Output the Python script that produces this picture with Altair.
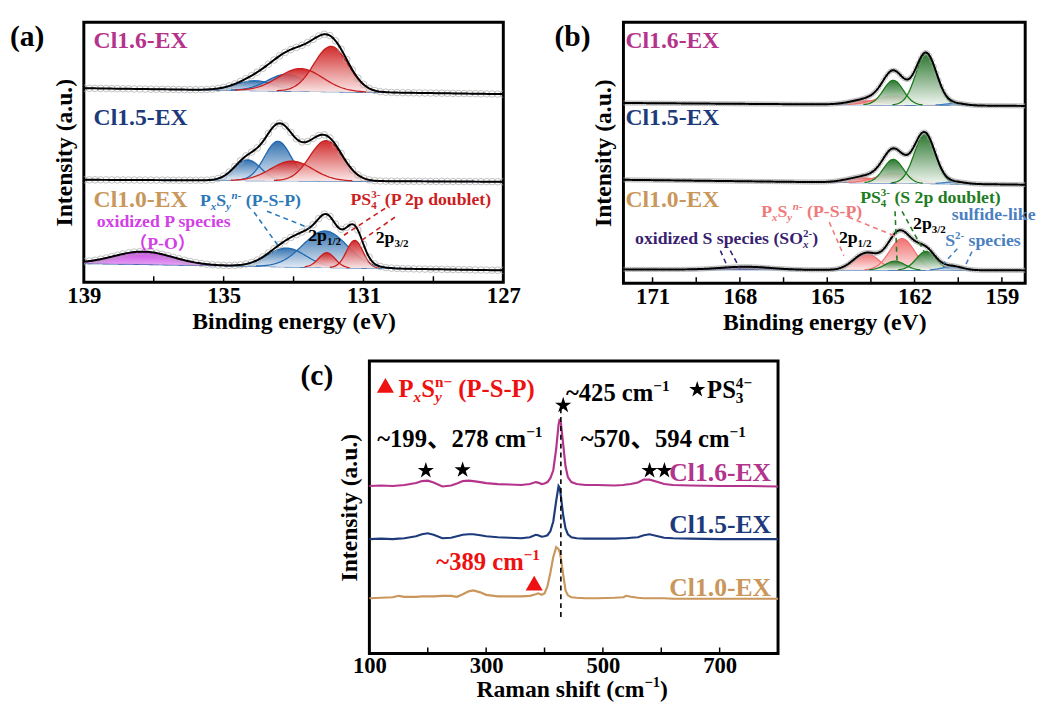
import numpy as np
import pandas as pd
import altair as alt

FONT = "Liberation Serif, Noto Sans CJK SC, serif"

# ---------------- colours ----------------
C16, C15, C10 = "#b4338b", "#1d3a7a", "#c9975c"

# ---------------- panel (a): P 2p XPS ----------------
A_SAMPLES = ["Cl1.6-EX", "Cl1.5-EX", "Cl1.0-EX"]
A_BG_HI = [197, 104, 19]      # background level at 139 eV
A_BG_LO = [191, 102, 12]      # background level at 127 eV
A_CENTER = [[134.1, 133.2, 132.8, 131.93],
            [134.32, 133.45, 133.05, 132.07],
            [137.3, 133.2, 132.1, 132.05, 131.25]]
A_HEIGHT = [[10, 17, 23, 46],
            [21, 40, 20, 41],
            [13, 19, 37, 15, 28]]
A_FWHM = [[1.3, 1.3, 1.5, 1.15],
          [0.9, 0.9, 1.4, 1.1],
          [2.0, 1.3, 1.5, 0.55, 0.55]]
A_FAMILY = [["blue", "blue", "red", "red"],
            ["blue", "blue", "red", "red"],
            ["PO", "blue", "blue", "red", "red"]]
A_TICKS = [129, 131, 133, 135, 137]
A_LABELS = [127, 131, 135, 139]

# ---------------- panel (b): S 2p XPS ----------------
B_SAMPLES = ["Cl1.6-EX", "Cl1.5-EX", "Cl1.0-EX"]
B_BG_HI = [183, 105, 14]      # at 172 eV
B_BG_LO = [180, 100, 13]      # at 158.2 eV
B_CENTER = [[163.7, 162.75, 162.73, 161.6, 160.6],
            [163.8, 162.7, 162.73, 161.65, 160.6],
            [167.8, 163.67, 162.43, 162.67, 161.6, 160.7]]
B_HEIGHT = [[4, 9, 25, 52, 2],
            [5, 10, 24, 50, 2],
            [3, 17, 32, 9, 19, 4]]
B_FWHM = [[1.3, 1.4, 0.8, 0.85, 0.8],
          [1.3, 1.4, 0.8, 0.85, 0.8],
          [2.0, 1.0, 1.0, 0.8, 0.8, 0.8]]
B_FAMILY = [["pink", "pink", "green", "green", "sblue"],
            ["pink", "pink", "green", "green", "sblue"],
            ["SO", "pink", "pink", "green", "green", "sblue"]]
B_TICKS = [159, 160.5, 162, 163.5, 165, 166.5, 168, 169.5, 171]
B_LABELS = [159, 162, 165, 168, 171]

# ---------------- panel (c): Raman ----------------
C_X = [100, 120, 140, 150, 160, 180, 190, 200, 210, 225, 240, 250, 260, 270, 278, 290, 300,
       320, 340, 360, 375, 385, 389, 395, 400, 405, 410, 415, 420, 424, 426, 428, 432, 436,
       440, 446, 455, 470, 490, 520, 535, 540, 548, 560, 570, 580, 594, 605, 620, 650, 700,
       750, 800]
C_Y16 = [170, 170.5, 170, 170.5, 171, 173, 175, 175.5, 173.5, 169.5, 170.5, 172.5, 175, 175.5,
         175, 174, 173, 172, 171.5, 171, 172, 174, 173.5, 172, 172.5, 174, 178, 186, 208, 232,
         238, 234, 212, 190, 179, 174, 172, 171, 171, 170.5, 171, 171.5, 172, 173.5, 176.5,
         176.5, 174, 172, 171, 170.5, 170, 170, 169.5]
C_Y15 = [116, 116.5, 116, 116.5, 117, 119, 121, 122, 120.5, 117, 117.5, 119, 120.5, 121, 121,
         120, 119, 118, 117.5, 117, 118, 120.5, 120, 118.5, 119, 120, 124, 134, 155, 170, 168,
         160, 140, 127, 121, 118, 117, 116.5, 116.5, 116.5, 117, 117, 117.5, 118, 120, 121,
         119, 117.5, 117, 116.5, 116, 116, 116]
C_Y10 = [56, 56.5, 57, 58.5, 57.5, 57.5, 58, 58, 58, 58.5, 58.5, 57.5, 60, 63, 64, 62, 59.5,
         58, 58, 58, 58.5, 60, 61, 59.5, 61, 68, 82, 98, 108, 106, 103, 97, 80, 64, 59, 57,
         56.5, 56, 56, 56.5, 57, 58.5, 57.5, 56.5, 56, 56, 56, 56, 55.5, 55.5, 55.5, 55.5, 55.5]
C_SERIES = ["Cl1.6-EX", "Cl1.5-EX", "Cl1.0-EX"]
C_TICKS = [200, 300, 400, 500, 600, 700]
C_LABELS = [100, 300, 500, 700]

# ---------------- sizes ----------------
A_W, A_H = 426, 264
B_W, B_H = 408, 265
C_W, C_H = 415, 297
A_DOM, B_DOM, C_DOM = [127, 139], [158.2, 172], [100, 800]
KX_A = -A_W / (A_DOM[1] - A_DOM[0])
KX_B = -B_W / (B_DOM[1] - B_DOM[0])
KX_C = C_W / (C_DOM[1] - C_DOM[0])

# ---------------- rich text helper (sub/superscripts) ----------------
TW = {" ": 250, "!": 333, "(": 333, ")": 333, "-": 333, ".": 250, "/": 278, "~": 520,
      "、": 1000, "（": 1000, "）": 1000, "−": 570,
      "A": 722, "B": 667, "C": 722, "D": 722, "E": 667, "F": 611, "G": 778, "H": 778, "I": 389,
      "J": 500, "K": 778, "L": 667, "M": 944, "N": 722, "O": 778, "P": 611, "Q": 778, "R": 722,
      "S": 556, "T": 667, "U": 722, "V": 722, "W": 1000, "X": 722, "Y": 722, "Z": 667,
      "a": 500, "b": 556, "c": 444, "d": 556, "e": 444, "f": 333, "g": 500, "h": 556, "i": 278,
      "j": 333, "k": 556, "l": 278, "m": 833, "n": 556, "o": 500, "p": 556, "q": 556, "r": 444,
      "s": 389, "t": 333, "u": 556, "v": 500, "w": 722, "x": 500, "y": 500, "z": 444}


def cw(ch):
    return 500 if ch.isdigit() else TW.get(ch, 500)


KIND = {"n": ("n", False), "i": ("n", True), "sub": ("sub", False), "isub": ("sub", True),
        "sup": ("sup", False), "isup": ("sup", True), "st": ("st", False), "ist": ("st", True)}


def rich_rows(segs, x0, y0, size, color, kx, align="left"):
    items, off, last = [], 0.0, (0.0, 0.0)
    for text, kind in segs:
        k, it = KIND[kind]
        fs = size * 0.62 if k != "n" else size
        body = text.strip(" ")
        lead = len(text) - len(text.lstrip(" "))
        lw = sum(cw(c) for c in text[:lead]) / 1000 * fs
        w = sum(cw(c) for c in body) / 1000 * fs
        tr = sum(cw(c) for c in text[lead + len(body):]) / 1000 * fs
        if k == "st":
            start = last[0]
            off = max(last[0] + last[1], start + w) + tr
        else:
            start = off + lw
            last = (start, w)
            off = start + w + tr
        dy = {"n": 0.0, "sub": 0.22 * size, "sup": -0.40 * size, "st": -0.40 * size}[k]
        items.append((body, start, dy, fs, it))
    shift = {"left": 0.0, "center": -off / 2, "right": -off}[align]
    return [dict(x=x0 + (s + shift) / kx, y=y0 - dy, text=b, size=fs, color=color, italic=it)
            for b, s, dy, fs, it in items]


def text_frames(specs, kx):
    rows = []
    for segs, x0, y0, size, color, align in specs:
        rows += rich_rows(segs, x0, y0, size, color, kx, align)
    df = pd.DataFrame(rows)
    return df[~df.italic].copy(), df[df.italic].copy()


PXSY = [("P", "n"), ("x", "isub"), ("S", "n"), ("y", "isub"), ("n-", "isup"), (" (P-S-P)", "n")]

A_TEXT = [
    ([("Cl1.6-EX", "n")], 138.72, 238, 24, C16, "left"),
    ([("Cl1.5-EX", "n")], 138.72, 160, 24, C15, "left"),
    ([("Cl1.0-EX", "n")], 138.72, 76, 24, C10, "left"),
    (PXSY, 135.68, 77, 18, "#2a78b8", "left"),
    ([("PS", "n"), ("4", "sub"), ("3-", "st"), (" (P 2p doublet)", "n")], 131.37, 78, 18, "#cc1f1f", "left"),
    ([("oxidized P species", "n")], 138.63, 56, 18, "#d23fe6", "left"),
    ([("（P-O）", "n")], 136.75, 34, 18, "#d23fe6", "center"),
    ([("2p", "n"), ("1/2", "sub")], 132.58, 42, 18, "black", "left"),
    ([("2p", "n"), ("3/2", "sub")], 130.65, 40, 18, "black", "left"),
]
A_DASH = [  # x1, y1, x2, y2, colour
    (134.13, 71, 133.42, 36, "#2a78b8"),
    (133.76, 72, 132.55, 55, "#2a78b8"),
    (130.38, 75, 131.59, 47, "#cc1f1f"),
    (130.10, 66, 131.11, 41, "#cc1f1f"),
]

B_TEXT = [
    ([("Cl1.6-EX", "n")], 171.93, 239, 24, C16, "left"),
    ([("Cl1.5-EX", "n")], 171.93, 161, 24, C15, "left"),
    ([("Cl1.0-EX", "n")], 171.93, 77, 24, C10, "left"),
    (PXSY, 167.27, 67, 18, "#f07a7a", "left"),
    ([("PS", "n"), ("4", "sub"), ("3-", "st"), (" (S 2p doublet)", "n")], 163.87, 81, 18, "#1e7d1e", "left"),
    ([("2p", "n"), ("1/2", "sub")], 164.6, 41, 18, "black", "left"),
    ([("2p", "n"), ("3/2", "sub")], 162.05, 55, 18, "black", "left"),
    ([("sulfide-like", "n")], 160.72, 64, 18, "#4a80c0", "left"),
    ([("S", "n"), ("2-", "sup"), (" species", "n")], 160.95, 38, 18, "#4a80c0", "left"),
    ([("oxidized S species (SO", "n"), ("x", "isub"), ("2-", "st"), (")", "n")], 171.6, 40, 18, "#3a1f70", "left"),
]
B_DASH = [
    (168.67, 33, 168.40, 15, "#3a1f70"),
    (168.33, 33, 168.00, 15, "#3a1f70"),
    (164.93, 62, 164.43, 28, "#f07a7a"),
    (164.27, 67, 162.60, 47, "#f07a7a"),
    (162.67, 73, 162.60, 20, "#1e7d1e"),
    (162.43, 73, 161.67, 32, "#1e7d1e"),
    (160.53, 35, 161.00, 20, "#4a80c0"),
    (160.03, 32, 160.27, 17, "#4a80c0"),
]

C_TEXT = [
    ([("P", "n"), ("x", "isub"), ("S", "n"), ("y", "isub"), ("n−", "st"), (" (P-S-P)", "n")], 150, 260.7, 25, "#ee1111", "left"),
    ([("~425 cm", "n"), ("−1", "sup")], 436.8, 256.3, 25, "black", "left"),
    ([("PS", "n"), ("3", "sub"), ("4−", "st")], 678.5, 259.7, 25, "black", "left"),
    ([("~199、278 cm", "n"), ("−1", "sup")], 113.5, 209.7, 25, "black", "left"),
    ([("~570、594 cm", "n"), ("−1", "sup")], 462, 209.7, 25, "black", "left"),
    ([("Cl1.6-EX", "n")], 788, 174.7, 26, C16, "right"),
    ([("Cl1.5-EX", "n")], 788, 122.3, 26, C15, "right"),
    ([("Cl1.0-EX", "n")], 788, 58, 26, C10, "right"),
    ([("~389 cm", "n"), ("−1", "sup")], 214.7, 84.7, 25, "#ee1111", "left"),
    ([("Raman shift (cm", "n"), ("−1", "sup"), (")", "n")], 447.4, -44, 24, "black", "center"),
]
C_STARS_X = [661.6, 432, 196.7, 259.7, 580, 605.4]
C_STARS_Y = [268, 252, 185.7, 186.3, 185.7, 185.7]
C_TRI_X = [127.5, 382.3]
C_TRI_Y = [272.3, 71.3]
C_DASH = [(428, 249, 428, 36, "black")]

STAR = ("M0,-1L0.2245,-0.309L0.9511,-0.309L0.3633,0.118L0.5878,0.809L0,0.382"
        "L-0.5878,0.809L-0.3633,0.118L-0.9511,-0.309L-0.2245,-0.309Z")

FILL = {
    "red": ("#cc1414", "#fbe6e6", "#c81e1e"),
    "blue": ("#1d63a8", "#e6edf6", "#2068b0"),
    "PO": ("#c832e6", "#e2a0f2", "#b030d0"),
    "green": ("#16691a", "#f0f6f0", "#1a7a1a"),
    "pink": ("#f06060", "#fde6e6", "#f07070"),
    "sblue": ("#3c78c0", "#dde8f5", "#3f7fc0"),
    "SO": ("#3a1f70", "#8070a0", "#3a1f70"),
}


def build_xps(xgrid, samples, bg_hi, bg_lo, centers, heights, fwhms, fams, x_hi, x_lo):
    comp, env, bgr = [], [], []
    for si, s in enumerate(samples):
        bg = bg_lo[si] + (bg_hi[si] - bg_lo[si]) * (xgrid - x_lo) / (x_hi - x_lo)
        total = np.zeros_like(xgrid)
        for ci, (c, h, w, f) in enumerate(zip(centers[si], heights[si], fwhms[si], fams[si])):
            g = h * np.exp(-4 * np.log(2) * (xgrid - c) ** 2 / w ** 2)
            total += g
            m = g > 0.25
            for xv, b, gv in zip(xgrid[m], bg[m], g[m]):
                comp.append(dict(x=xv, base=b, top=b + gv, comp=f"{s}-{ci}", fam=f))
        for xv, b, t in zip(xgrid, bg, bg + total):
            env.append(dict(x=xv, y=t, sample=s))
            bgr.append(dict(x=xv, y=b, sample=s))
    return pd.DataFrame(comp), pd.DataFrame(env), pd.DataFrame(bgr)


def grad(top, bottom):
    return alt.LinearGradient(gradient="linear",
                              stops=[alt.GradientStop(color=top, offset=0),
                                     alt.GradientStop(color=bottom, offset=1)],
                              x1=0, x2=0, y1=0, y2=1)


def make_panel(label, W, H, xdom, rev, xlabels, ticks, xtitle, ydom, layers_fn, label_dx, lpad=3):
    xaxis = alt.Axis(values=xlabels, title=xtitle, labelPadding=lpad, titlePadding=2,
                     labelFlush=False)
    yaxis = alt.Axis(labels=False, title="Intensity (a.u.)", titlePadding=8)

    def X(f):
        return alt.X(f"{f}:Q", scale=alt.Scale(domain=xdom, reverse=rev, nice=False, zero=False), axis=xaxis)

    def Y(f):
        return alt.Y(f"{f}:Q", scale=alt.Scale(domain=ydom, nice=False, zero=False), axis=yaxis)

    layers = layers_fn(X, Y)
    tick_layer = alt.Chart(pd.DataFrame({"x": ticks})).mark_rule(color="black", strokeWidth=1.5).encode(
        x=X("x"), y=alt.value(H), y2=alt.value(H - 6))
    lab = alt.Chart(pd.DataFrame({"t": [label]})).mark_text(
        font=FONT, fontWeight="bold", fontSize=30, align="left", baseline="alphabetic", color="black"
    ).encode(x=alt.value(label_dx), y=alt.value(24), text="t:N")
    return alt.layer(*layers, tick_layer, lab).properties(width=W, height=H)


def text_layers(specs, kx, X, Y):
    dn, di = text_frames(specs, kx)
    out = []
    for df, style in ((dn, "normal"), (di, "italic")):
        if len(df):
            out.append(alt.Chart(df).mark_text(font=FONT, fontWeight="bold", fontStyle=style,
                                               align="left", baseline="alphabetic").encode(
                x=X("x"), y=Y("y"), text="text:N",
                size=alt.Size("size:Q", scale=None), color=alt.Color("color:N", scale=None)))
    return out


def dash_layer(dashes, X, Y):
    df = pd.DataFrame(dashes, columns=["x", "y", "x2", "y2", "color"])
    return alt.Chart(df).mark_rule(strokeDash=[5, 4], strokeWidth=1.6).encode(
        x=X("x"), y=Y("y"), x2="x2:Q", y2="y2:Q", color=alt.Color("color:N", scale=None))


def xps_layers(comp, env, bgr, order, step, csize, texts, dashes, kx):
    def fn(X, Y):
        L = [alt.Chart(bgr).mark_line(color="#1f5aa0", strokeWidth=1.2, clip=True).encode(
            x=X("x"), y=Y("y"), detail="sample:N")]
        for fam in order:
            sub = comp[comp.fam == fam]
            if len(sub) == 0:
                continue
            top, bot, lc = FILL[fam]
            L.append(alt.Chart(sub).mark_area(
                color=grad(top, bot), fillOpacity=0.9, clip=True,
                line=alt.OverlayMarkDef(color=lc, strokeWidth=1.3)).encode(
                x=X("x"), y=Y("top"), y2="base:Q", detail="comp:N"))
        pts = env.groupby("sample", group_keys=False).apply(lambda d: d.iloc[::step])
        L.append(alt.Chart(pts).mark_point(shape="circle", filled=False, color="#a8a8a8",
                                           size=csize, strokeWidth=1, clip=True).encode(
            x=X("x"), y=Y("y")))
        L.append(alt.Chart(env).mark_line(color="black", strokeWidth=2, clip=True).encode(
            x=X("x"), y=Y("y"), detail="sample:N"))
        L.append(dash_layer(dashes, X, Y))
        L += text_layers(texts, kx, X, Y)
        return L
    return fn


# ---- panel (a)
AX = np.round(np.arange(127.0, 139.0001, 0.04), 3)
a_comp, a_env, a_bg = build_xps(AX, A_SAMPLES, A_BG_HI, A_BG_LO, A_CENTER, A_HEIGHT, A_FWHM, A_FAMILY, 139, 127)
panelA = make_panel("(a)", A_W, A_H, A_DOM, True, A_LABELS, A_TICKS, "Binding energy (eV)", [0, A_H],
                    xps_layers(a_comp, a_env, a_bg, ["PO", "blue", "red"], 4, 45, A_TEXT, A_DASH, KX_A), -75)

# ---- panel (b)
BX = np.round(np.arange(158.2, 172.0001, 0.04), 3)
b_comp, b_env, b_bg = build_xps(BX, B_SAMPLES, B_BG_HI, B_BG_LO, B_CENTER, B_HEIGHT, B_FWHM, B_FAMILY, 172, 158.2)
panelB = make_panel("(b)", B_W, B_H, B_DOM, True, B_LABELS, B_TICKS, "Binding energy (eV)", [0, B_H],
                    xps_layers(b_comp, b_env, b_bg, ["SO", "pink", "green", "sblue"], 2, 20, B_TEXT, B_DASH, KX_B), -70)


# ---- panel (c)
def raman_layers(X, Y):
    rows = []
    for name, ys, col in zip(C_SERIES, [C_Y16, C_Y15, C_Y10], [C16, C15, C10]):
        for xv, yv in zip(C_X, ys):
            rows.append(dict(x=xv, y=yv, series=name, color=col))
    df = pd.DataFrame(rows)
    L = [alt.Chart(df).mark_line(strokeWidth=2.2).encode(
        x=X("x"), y=Y("y"), detail="series:N", color=alt.Color("color:N", scale=None))]
    L.append(dash_layer(C_DASH, X, Y))
    L.append(alt.Chart(pd.DataFrame({"x": C_STARS_X, "y": C_STARS_Y})).mark_point(
        shape=STAR, filled=True, color="black", size=300, opacity=1).encode(x=X("x"), y=Y("y")))
    L.append(alt.Chart(pd.DataFrame({"x": C_TRI_X, "y": C_TRI_Y})).mark_point(
        shape="triangle-up", filled=True, color="#ee1111", size=300, opacity=1).encode(x=X("x"), y=Y("y")))
    L += text_layers(C_TEXT, KX_C, X, Y)
    return L


panelC = make_panel("(c)", C_W, C_H, C_DOM, False, C_LABELS, C_TICKS, None, [0, C_H], raman_layers, -70, lpad=1)

spacer = alt.Chart(pd.DataFrame({"v": [0]})).mark_point(opacity=0).encode(
    x=alt.value(0), y=alt.value(0)).properties(width=1, height=1, view=alt.ViewBackground(stroke="transparent"))

top = alt.hconcat(panelA, panelB, spacing=31)
bottom = alt.hconcat(spacer, panelC, spacing=213)
chart = alt.vconcat(top, bottom, spacing=20).properties(
    padding={"left": 0, "top": 7, "right": 0, "bottom": 0}
).configure_view(stroke="black", strokeWidth=3).configure_axis(
    labelFont=FONT, titleFont=FONT, labelFontWeight="bold", titleFontWeight="bold",
    labelFontSize=23, titleFontSize=24, labelColor="black", titleColor="black",
    grid=False, domain=False, ticks=False)

chart.save("out.html", embed_options={"renderer": "svg", "actions": False})
